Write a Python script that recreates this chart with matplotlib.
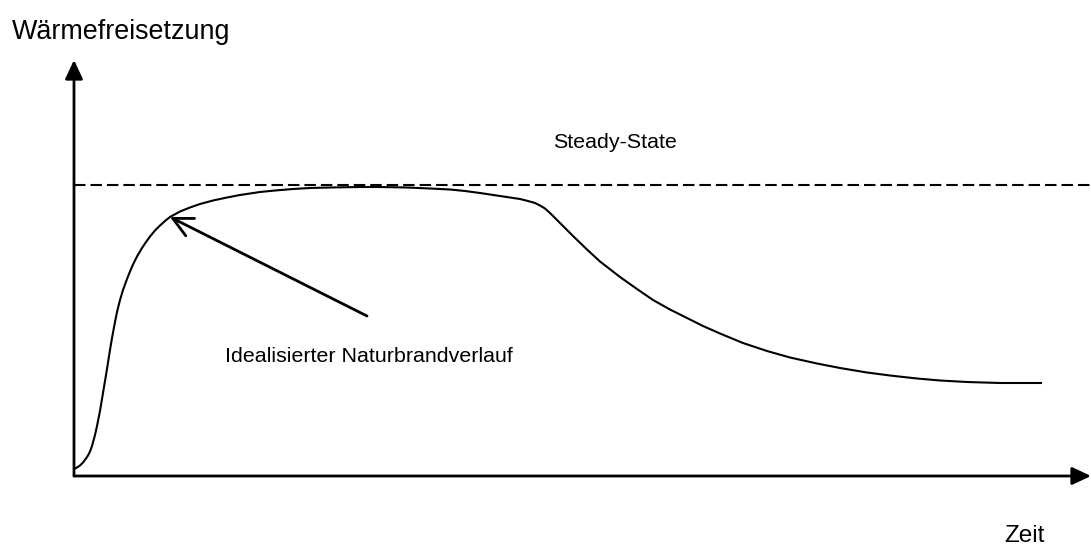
import matplotlib.pyplot as plt

plt.rcParams['font.family'] = ['Liberation Sans', 'DejaVu Sans']

## curve (time, heat release), origin at the axis corner
zeit = [0, 3, 6, 9, 12, 14, 16, 18, 21, 23, 26, 28, 31, 33, 36, 38, 41, 43,
        46, 49, 53, 56, 59, 63, 68, 72, 76, 81, 86, 91, 96, 106, 116, 126,
        139, 153, 166, 186, 201, 219, 236, 256, 286, 306, 333, 356, 376,
        391, 406, 426, 446, 454, 461, 466, 471, 476, 481, 489, 499, 513, 526,
        546, 563, 579, 596, 613, 629, 646, 669, 693, 716, 743, 766, 793,
        816, 843, 866, 893, 926, 968]
waerme = [7, 8.5, 10.5, 13.5, 17.5, 20.5, 24.5, 30, 41, 50, 65, 77, 95, 107,
          126, 138, 154, 164, 176, 186, 197, 204.5, 211.5, 219.5, 228, 234,
          239.5, 245.5, 250.5, 255, 259, 264.5, 268.5, 272, 275.5, 278.5,
          281, 284, 285.5, 287, 288, 288.5, 289, 289, 288.5, 287.5, 286.5,
          285, 283, 280, 277, 275, 273, 270.5, 267.5, 263, 258, 250, 240,
          226.5, 214.5, 199, 187, 176, 166.5, 158, 150, 142.5, 133, 125,
          118.5, 112.5, 108, 103.5, 100.5, 97.5, 95.5, 94, 93, 93]

steady_state = 291
pfeil_start = (293, 160)   # tail of annotation arrow
pfeil_ziel = (96, 259)     # tip, on the curve

fig = plt.figure(figsize=(10.91, 5.47), dpi=100)
ax = fig.add_axes([74 / 1091, 71 / 547, 1017 / 1091, 416 / 547])
ax.set_xlim(0, 1017)
ax.set_ylim(0, 416)
ax.axis('off')

## axes with arrow heads
for spitze in [(1, 0), (0, 1)]:
    ax.annotate('', xy=spitze, xytext=(0, 0), xycoords='axes fraction',
                arrowprops=dict(arrowstyle='-|>,head_length=11.5,head_width=5.4',
                                mutation_scale=1, lw=2, color='black',
                                shrinkA=0, shrinkB=0), annotation_clip=False)

ax.axhline(steady_state, color='black', lw=1.5, linestyle=(0, (5.5, 2.4)))
ax.plot(zeit, waerme, color='black', lw=1.5, solid_capstyle='butt',
        solid_joinstyle='round')

ax.annotate('', xy=pfeil_ziel, xytext=pfeil_start,
            arrowprops=dict(arrowstyle='->,head_length=0.7,head_width=0.35',
                            mutation_scale=20, lw=2, color='black',
                            shrinkA=0, shrinkB=0))

ax.text(541, 334, 'Steady-State', fontsize=15.4, ha='center', va='center')
ax.text(151, 114, 'Idealisierter Naturbrandverlauf', fontsize=15.4,
        ha='left', va='baseline')

fig.text(12 / 1091, 1 - 39 / 547, 'Wärmefreisetzung', fontsize=19.4,
         ha='left', va='baseline')
fig.text(1004 / 1091, 1 - 542 / 547, 'Zeit', fontsize=17.5,
         ha='left', va='baseline')

fig.savefig('out.png', dpi=100)
